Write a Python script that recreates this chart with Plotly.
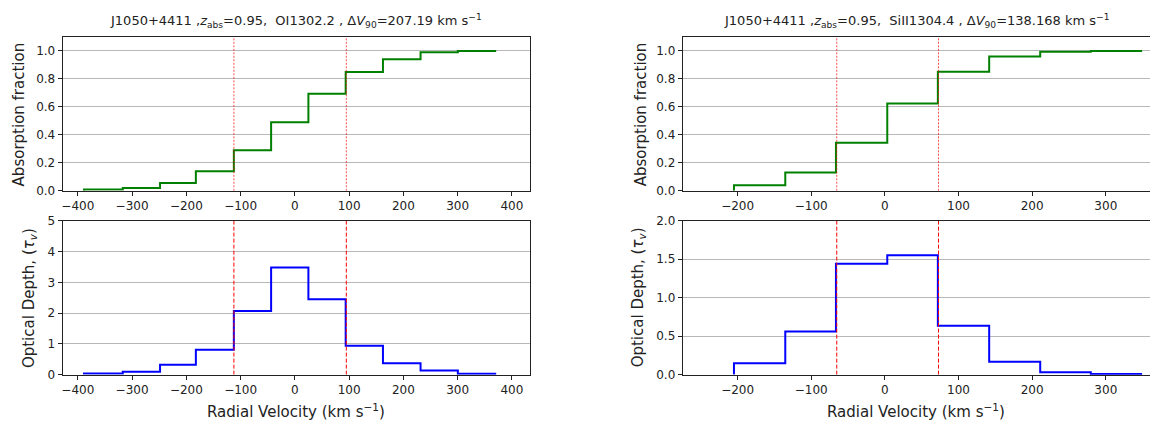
import plotly.graph_objects as go

W, H = 1151, 430

# ---------------- data ----------------
# OI 1302.2 (left panels)
oi_edges = [-388.6, -317.2, -248.5, -182.5, -112.5, -43.8, 24.9, 93.6, 162.3, 231.6, 300.3, 371.0]
oi_frac = [0.009, 0.02, 0.055, 0.14, 0.29, 0.49, 0.694, 0.85, 0.94, 0.99, 1.0]
oi_tau = [0.04, 0.095, 0.32, 0.81, 2.07, 3.48, 2.45, 0.94, 0.37, 0.13, 0.03]
oi_v90 = [-112.4, 94.8]

# SiII 1304.4 (right panels)
si_edges = [-205.0, -135.3, -66.5, 3.2, 71.9, 141.6, 210.9, 279.6, 349.3]
si_frac = [0.039, 0.131, 0.343, 0.625, 0.851, 0.961, 0.995, 1.0]
si_tau = [0.147, 0.56, 1.44, 1.553, 0.636, 0.168, 0.03, 0.008]
si_v90 = [-65.4, 72.8]

titles = [
    "J1050+4411 ,<i>z</i><sub>abs</sub>=0.95,  OI1302.2 , Δ<i>V</i><sub>90</sub>=207.19 km s<sup>−1</sup>",
    "J1050+4411 ,<i>z</i><sub>abs</sub>=0.95,  SiII1304.4 , Δ<i>V</i><sub>90</sub>=138.168 km s<sup>−1</sup>",
]
ylab_top = "Absorption fraction"
ylab_bot = "Optical Depth, (<i>τ<sub>v</sub></i>)"
xlab = "Radial Velocity (km s<sup>−1</sup>)"

FONT = "DejaVu Sans"


def step_xy(edges, vals):
    xs = [edges[0]] + list(edges)
    ys = [0] + list(vals) + [vals[-1]]
    return xs, ys


def px_x(p):
    return p / W


def px_y(p):
    return 1 - p / H


fig = go.Figure()

# panel geometry (pixels)
xdom = {"L": (61.7, 529.3), "R": (682.3, 1150.0)}
ydom = {"T": (31, 190), "B": (221, 380)}

panels = [
    ("x", "y", "L", "T", oi_edges, oi_frac, "#008000", 1.1, 0.2, oi_v90, [-428, 433]),
    ("x2", "y2", "R", "T", si_edges, si_frac, "#008000", 1.1, 0.2, si_v90, [-274.6, 360]),
    ("x3", "y3", "L", "B", oi_edges, oi_tau, "#0000ff", 5, 1, oi_v90, [-428, 433]),
    ("x4", "y4", "R", "B", si_edges, si_tau, "#0000ff", 2.0, 0.5, si_v90, [-274.6, 360]),
]

layout = {}
for xa, ya, col, row, edges, vals, color, ymax, dtick, v90, xr in panels:
    xs, ys = step_xy(edges, vals)
    fig.add_trace(go.Scatter(x=xs, y=ys, mode="lines", line=dict(color=color, width=2, shape="hv"),
                             xaxis=xa, yaxis=ya, showlegend=False, hoverinfo="skip"))
    for v in v90:
        if row == "T":
            ln = dict(color="#ff0000", width=0.7, dash="2px,1.5px")
        else:
            ln = dict(color="#ff0000", width=1.0, dash="4px,2px")
        fig.add_trace(go.Scatter(x=[v, v], y=[0, ymax], mode="lines", line=ln,
                                 xaxis=xa, yaxis=ya, showlegend=False, hoverinfo="skip"))
    xkey = "xaxis" + xa[1:]
    ykey = "yaxis" + ya[1:]
    x0, x1 = xdom[col]
    yt, yb = ydom[row]
    mirror_y = True if col == "L" else False
    layout[xkey] = dict(
        domain=[px_x(x0), px_x(x1)], range=xr, anchor=ya, dtick=100, tick0=0,
        showgrid=False, zeroline=False, showline=True, linecolor="#222222", linewidth=1,
        mirror=True, ticks="outside", ticklen=4, tickcolor="#222222",
        tickfont=dict(family=FONT, size=12, color="#222222"),
    )
    layout[ykey] = dict(
        domain=[px_y(yb), px_y(yt)], range=[0, ymax], anchor=xa, dtick=dtick, tick0=0,
        tickformat=".1f" if dtick < 1 else "d",
        showgrid=True, gridcolor="#b8b8b8", gridwidth=1, zeroline=False,
        showline=True, linecolor="#222222", linewidth=1, mirror=mirror_y,
        ticks="outside", ticklen=4, tickcolor="#222222",
        tickfont=dict(family=FONT, size=12, color="#222222"),
    )

ann = []
for i, col in enumerate(["L", "R"]):
    x0, x1 = xdom[col]
    ann.append(dict(text=titles[i], x=px_x((x0 + x1) / 2), y=px_y(14), xref="paper", yref="paper",
                    showarrow=False, xanchor="center", yanchor="middle",
                    font=dict(family=FONT, size=13, color="#222222")))
ylab_pos = {("L", "T"): 17.5, ("R", "T"): 640, ("L", "B"): 28.4, ("R", "B"): 638.2}
for (col, row), xp in ylab_pos.items():
    yt, yb = ydom[row]
    ann.append(dict(text=ylab_top if row == "T" else ylab_bot, x=px_x(xp), y=px_y((yt + yb) / 2),
                    xref="paper", yref="paper", showarrow=False, textangle=-90,
                    xanchor="center", yanchor="middle",
                    font=dict(family=FONT, size=15, color="#222222")))
for col in ["L", "R"]:
    x0, x1 = xdom[col]
    ann.append(dict(text=xlab, x=px_x((x0 + x1) / 2), y=px_y(418), xref="paper", yref="paper",
                    showarrow=False, xanchor="center", yanchor="middle",
                    font=dict(family=FONT, size=15, color="#222222")))

fig.update_layout(
    width=W, height=H, margin=dict(l=0, r=0, t=0, b=0),
    paper_bgcolor="white", plot_bgcolor="white",
    annotations=ann, **layout,
)

fig.write_html("out.html", config={"displayModeBar": False})
